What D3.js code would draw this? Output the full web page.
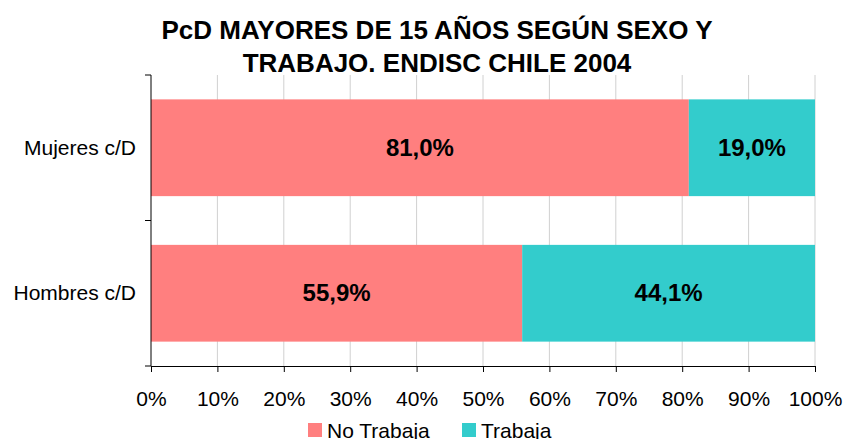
<!DOCTYPE html>
<html lang="es">
<head>
<meta charset="UTF-8">
<title>PcD mayores de 15 años según sexo y trabajo</title>
<style>
  body, html { margin: 0; padding: 0; background: #fff; }
  svg { display: block; font-family: "Liberation Sans", Arial, sans-serif; }
  .grid line { stroke: #d0d0d0; }
  .axis path, .axis line { stroke: #000; }
</style>
</head>
<body>
<svg width="845" height="439"></svg>
<script src="https://d3js.org/d3.v7.min.js"></script>
<script>
// data
const categories = ["Mujeres c/D", "Hombres c/D"];
const noTrabaja = [81.0, 55.9];
const trabaja = [19.0, 44.1];
const seriesNames = ["No Trabaja", "Trabaja"];
const colors = ["#FF7F7F", "#33CCCC"];
const xTicks = [0, 10, 20, 30, 40, 50, 60, 70, 80, 90, 100];

const svg = d3.select("svg");
const margin = { top: 75, left: 151, right: 30, bottom: 73 };
const W = 845, H = 439;

const x = d3.scaleLinear().domain([0, 100]).range([margin.left, W - margin.right]);
const y = d3.scaleBand().domain(categories).range([margin.top, H - margin.bottom]).paddingInner(0.335).paddingOuter(0.1675);

// title
svg.append("text").attr("x", 437).attr("y", 39).attr("text-anchor", "middle")
  .attr("font-size", 26).attr("font-weight", "bold").text("PcD MAYORES DE 15 AÑOS SEGÚN SEXO Y");
svg.append("text").attr("x", 437).attr("y", 72).attr("text-anchor", "middle")
  .attr("font-size", 26).attr("font-weight", "bold").text("TRABAJO. ENDISC CHILE 2004");

// gridlines
svg.append("g").attr("class", "grid")
  .selectAll("line").data(xTicks.slice(1)).enter().append("line")
  .attr("x1", d => x(d)).attr("x2", d => x(d))
  .attr("y1", margin.top).attr("y2", H - margin.bottom);

// stacked bars
const rows = categories.map((c, i) => ({ cat: c, vals: [noTrabaja[i], trabaja[i]] }));
rows.forEach(r => {
  let acc = 0;
  r.vals.forEach((v, j) => {
    svg.append("rect")
      .attr("x", x(acc)).attr("width", x(acc + v) - x(acc))
      .attr("y", y(r.cat)).attr("height", y.bandwidth())
      .attr("fill", colors[j]);
    svg.append("text")
      .attr("x", x(acc + v / 2)).attr("y", y(r.cat) + y.bandwidth() / 2 + 8)
      .attr("text-anchor", "middle").attr("font-size", 24).attr("font-weight", "bold")
      .text(v.toFixed(1).replace(".", ",") + "%");
    acc += v;
  });
});

// x axis
const xAxis = d3.axisBottom(x).tickValues(xTicks).tickSize(6).tickSizeOuter(0)
  .tickFormat(d => d + "%");
const gx = svg.append("g").attr("class", "axis")
  .attr("transform", `translate(0,${H - margin.bottom})`).call(xAxis);
gx.selectAll("text").attr("font-size", 21).attr("fill", "#000").attr("y", 40).attr("dy", null)
  .style("font-family", "'Liberation Sans', Arial, sans-serif");

// y axis with ticks at category boundaries
const gy = svg.append("g").attr("class", "axis").attr("transform", `translate(${margin.left},0)`);
gy.append("line").attr("x1", 0).attr("x2", 0).attr("y1", margin.top).attr("y2", H - margin.bottom);
const bounds = [margin.top, (margin.top + H - margin.bottom) / 2, H - margin.bottom];
gy.selectAll(".tk").data(bounds).enter().append("line")
  .attr("x1", -6).attr("x2", 0).attr("y1", d => d).attr("y2", d => d);
gy.selectAll(".lbl").data(categories).enter().append("text")
  .attr("x", -15).attr("y", d => y(d) + y.bandwidth() / 2 + 7)
  .attr("text-anchor", "end").attr("font-size", 21).text(d => d);

// legend
const legendX = [308, 462];
seriesNames.forEach((n, i) => {
  svg.append("rect").attr("x", legendX[i]).attr("y", 423).attr("width", 14).attr("height", 14)
    .attr("fill", colors[i]);
  svg.append("text").attr("x", legendX[i] + 19).attr("y", 438).attr("font-size", 21).text(n);
});
</script>
</body>
</html>
